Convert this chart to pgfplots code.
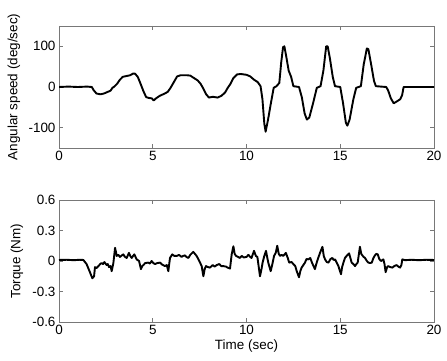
\documentclass[border=0pt]{standalone}
\usepackage{fontspec}
\setmainfont{Liberation Sans}
\usepackage{pgfplots}
\pgfplotsset{compat=1.18}

\definecolor{framegray}{RGB}{120,120,120}

\pgfplotsset{
  matlabax/.style={
    scale only axis,
    width=375bp, height=122bp,
    xmin=0, xmax=20,
    xtick={0,5,10,15,20},
    xticklabels={0,5,10,15,20},
    tick align=inside,
    major tick length=4bp,
    axis line style={framegray, line width=0.6bp},
    every tick/.style={framegray, line width=0.6bp},
    tick label style={font=\fontsize{13.5}{15}\selectfont},
  },
  sig/.style={black, line width=1.9bp, line join=round, mark=none},
}

\begin{document}
\begin{tikzpicture}
\useasboundingbox (-59bp,-213bp) rectangle (388bp,148bp);

% top: angular speed
\begin{axis}[matlabax,
  at={(0,0)}, anchor=south west,
  ymin=-150, ymax=150,
  ytick={-100,0,100},
  yticklabels={-100,0,100},
  ylabel={Angular speed (deg/sec)},
  every axis y label/.style={at={(axis description cs:-0.12,0.5)}, rotate=90, anchor=center, font=\fontsize{13.5}{15}\selectfont},
]
\addplot[sig] coordinates {
(0,0) (0.5,1) (1.0,0) (1.5,1) (1.75,0) (1.85,-8) (2.0,-16) (2.2,-18) (2.4,-16)
(2.6,-12) (2.75,-9) (2.85,-2) (2.95,1) (3.1,8) (3.25,18) (3.4,25) (3.6,27)
(3.8,29) (3.95,33) (4.05,33) (4.2,25) (4.35,8) (4.5,-10) (4.65,-25) (4.8,-27)
(4.95,-28) (5.05,-33) (5.2,-27) (5.4,-21) (5.6,-17) (5.8,-12) (5.95,-2) (6.1,10)
(6.3,26) (6.5,29) (6.8,29) (7.0,28) (7.2,22) (7.4,16) (7.55,8) (7.7,-4)
(7.85,-18) (8.0,-26) (8.2,-24) (8.45,-26) (8.65,-22) (8.85,-14) (9.0,-2) (9.15,8)
(9.3,22) (9.5,31) (9.7,32) (10.0,30) (10.2,26) (10.4,18) (10.6,12) (10.75,2)
(10.85,-30) (10.95,-90) (11.02,-110) (11.15,-80) (11.3,-40) (11.45,-2) (11.6,2)
(11.75,10) (11.85,60) (11.95,98) (12.02,100) (12.12,75) (12.25,40) (12.38,25)
(12.5,2) (12.8,0) (12.95,-25) (13.1,-65) (13.22,-80) (13.35,-75) (13.55,-40)
(13.75,-2) (13.95,2) (14.1,40) (14.25,100) (14.33,100) (14.45,70) (14.6,25)
(14.72,2) (15.0,0) (15.15,-40) (15.3,-88) (15.38,-95) (15.5,-80) (15.7,-30)
(15.85,-2) (16.1,2) (16.25,55) (16.42,95) (16.5,93) (16.65,55) (16.8,15)
(16.9,2) (17.45,0) (17.55,-8) (17.7,-28) (17.85,-40) (18.0,-36) (18.2,-30)
(18.3,-20) (18.38,0) (19.0,0) (20.0,0)
};
\end{axis}

% bottom: torque
\begin{axis}[matlabax,
  at={(0,-174bp)}, anchor=south west,
  ymin=-0.6, ymax=0.6,
  ytick={-0.6,-0.3,0,0.3,0.6},
  yticklabels={-0.6,-0.3,0,0.3,0.6},
  ylabel={Torque (Nm)},
  xlabel={Time (sec)},
  every axis y label/.style={at={(axis description cs:-0.112,0.5)}, rotate=90, anchor=center, font=\fontsize{13.5}{15}\selectfont},
  every axis x label/.style={at={(axis description cs:0.5,-0.197)}, anchor=center, font=\fontsize{13.5}{15}\selectfont},
]
\addplot[sig] coordinates {
(0,0.01) (0.4,0.012) (0.8,0.008) (1.1,0.012) (1.3,0.01) (1.47,-0.03) (1.65,-0.11)
(1.78,-0.17) (1.87,-0.15) (1.92,-0.06) (2.0,-0.07) (2.1,-0.05) (2.2,-0.03)
(2.27,-0.02) (2.35,-0.03) (2.42,-0.01) (2.54,-0.04) (2.6,-0.03) (2.67,-0.06)
(2.75,-0.05) (2.81,-0.1) (2.9,-0.02) (2.99,0.13) (3.08,0.05) (3.17,0.06)
(3.25,0.04) (3.35,0.055) (3.43,0.065) (3.52,0.04) (3.61,0.03) (3.73,0.08)
(3.8,0.05) (3.88,0.03) (3.95,0.05) (4.02,0.065) (4.14,0.016) (4.27,0.0)
(4.37,-0.08) (4.44,-0.05) (4.5,-0.04) (4.6,-0.02) (4.76,-0.016) (4.85,-0.025)
(4.94,0.0) (5.03,-0.02) (5.12,-0.03) (5.25,-0.02) (5.39,-0.016) (5.5,-0.035)
(5.65,-0.05) (5.75,-0.04) (5.83,-0.1) (5.92,0.03) (6.04,0.065) (6.15,0.05)
(6.28,0.05) (6.4,0.06) (6.54,0.04) (6.62,0.05) (6.72,0.055) (6.8,0.04)
(6.9,0.03) (7.0,0.06) (7.16,0.09) (7.25,0.07) (7.34,0.05) (7.48,0.0)
(7.61,-0.05) (7.7,-0.15) (7.77,-0.08) (7.84,-0.05) (7.95,-0.06) (8.05,-0.065)
(8.2,-0.04) (8.3,-0.055) (8.41,-0.04) (8.55,-0.03) (8.65,-0.05) (8.76,-0.05)
(8.9,-0.055) (9.0,-0.065) (9.12,-0.075) (9.21,0.065) (9.3,0.145) (9.37,0.07)
(9.44,0.05) (9.55,0.04) (9.65,0.03) (9.75,0.05) (9.85,0.035) (10.0,0.04)
(10.1,0.06) (10.2,0.04) (10.27,0.03) (10.4,0.1) (10.5,0.05) (10.58,0.04)
(10.72,-0.15) (10.8,-0.08) (10.86,-0.015) (10.95,0.05) (11.04,0.1) (11.1,0.04)
(11.16,-0.015) (11.29,-0.1) (11.38,-0.03) (11.47,0.05) (11.56,0.08)
(11.64,0.15) (11.72,0.07) (11.79,0.05) (11.88,0.06) (11.96,0.05) (12.1,0.08)
(12.2,0.03) (12.28,-0.016) (12.4,-0.01) (12.5,-0.03) (12.6,-0.05) (12.68,-0.1)
(12.8,-0.16) (12.87,-0.1) (12.94,-0.065) (13.03,-0.04) (13.12,-0.016)
(13.2,0.02) (13.3,0.016) (13.4,0.03) (13.5,-0.02) (13.65,-0.08) (13.72,-0.03)
(13.8,0.016) (13.92,0.08) (14.05,0.14) (14.12,0.05) (14.19,0.016) (14.28,-0.01)
(14.37,-0.016) (14.48,0.02) (14.58,0.03) (14.65,0.01) (14.72,0.016)
(14.82,-0.02) (14.9,-0.05) (15.04,-0.13) (15.1,-0.06) (15.17,-0.016)
(15.25,0.03) (15.34,0.05) (15.47,0.075) (15.54,0.03) (15.61,-0.016)
(15.7,-0.03) (15.79,-0.05) (15.86,-0.03) (15.93,-0.016) (16.05,0.14)
(16.12,0.07) (16.18,0.055) (16.25,0.04) (16.32,0.03) (16.42,0.0) (16.5,-0.016)
(16.6,-0.02) (16.68,-0.016) (16.77,0.03) (16.85,0.055) (16.92,0.07)
(17.0,0.065) (17.08,0.02) (17.17,0.0) (17.25,0.01) (17.3,0.016) (17.36,-0.03)
(17.42,-0.11) (17.5,-0.06) (17.56,-0.05) (17.67,-0.06) (17.78,-0.065)
(17.88,-0.05) (18.0,-0.04) (18.1,-0.055) (18.19,-0.065) (18.26,-0.04)
(18.31,0.016) (18.45,0.008) (18.8,0.012) (19.2,0.008) (19.6,0.012) (20.0,0.01)
};
\end{axis}
\end{tikzpicture}
\end{document}
